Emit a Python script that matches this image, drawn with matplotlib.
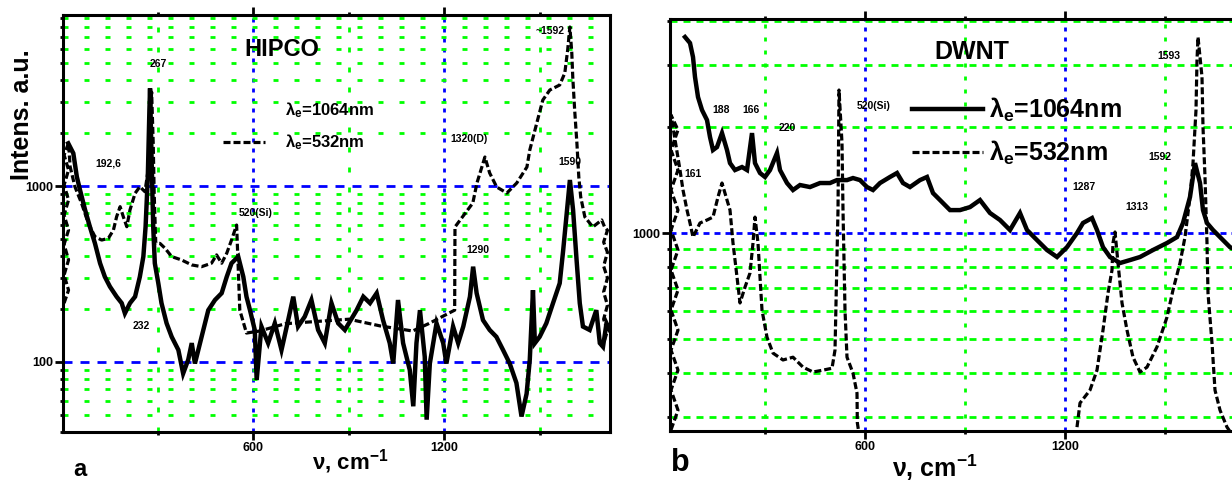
import numpy as np
from matplotlib import pyplot as plt
from matplotlib.lines import Line2D
from matplotlib.ticker import FixedLocator, LogLocator, NullFormatter, FuncFormatter

plt.rcParams['font.family'] = ['Liberation Sans', 'DejaVu Sans']
plt.rcParams['font.weight'] = 'bold'
plt.rcParams['mathtext.fontset'] = 'custom'
plt.rcParams['mathtext.rm'] = 'Liberation Sans:bold'
plt.rcParams['mathtext.it'] = 'Liberation Sans:bold'
plt.rcParams['mathtext.bf'] = 'Liberation Sans:bold'

# ---- panel a : HIPCO ----
hipco_x_1064 = [18, 34, 45, 55, 71, 86, 102, 118, 133, 149, 170, 186, 196, 212, 228, 243, 254, 261, 268, 273,
                275, 280, 285, 290, 301, 311, 327, 343, 364, 379, 395, 406, 416, 437, 458, 479, 500, 516, 531, 552,
                568, 578, 589, 604, 610, 625, 646, 667, 688, 709, 725, 740, 761, 782, 803, 824, 845, 866, 887, 924,
                945, 966, 987, 1007, 1028, 1039, 1054, 1070, 1091, 1102, 1112, 1123, 1138, 1144, 1154, 1175, 1196, 1206, 1227, 1243,
                1259, 1280, 1290, 1301, 1321, 1342, 1363, 1384, 1405, 1426, 1442, 1458, 1468, 1478, 1484, 1499, 1520, 1541, 1562, 1573,
                1583, 1594, 1604, 1615, 1625, 1635, 1656, 1677, 1688, 1698, 1709, 1719]
hipco_y_1064 = [1748, 1534, 1129, 949, 731, 587, 472, 364, 305, 268, 235, 216, 189, 216, 235, 305, 397, 587, 1129, 2702,
                3590, 1405, 587, 364, 280, 216, 166, 139, 117, 86, 103, 128, 98, 139, 197, 225, 246, 305, 364, 397,
                305, 235, 197, 152, 79, 159, 128, 166, 117, 173, 235, 159, 181, 225, 152, 128, 216, 166, 152, 197,
                235, 216, 246, 173, 128, 98, 225, 128, 90, 56, 128, 197, 107, 47, 98, 166, 128, 98, 159, 128,
                159, 235, 348, 246, 173, 152, 139, 117, 98, 76, 49, 66, 103, 256, 128, 139, 166, 216, 280, 433,
                669, 1082, 731, 380, 216, 159, 152, 197, 128, 122, 166, 152]

hipco_x_532 = [5, 19, 5, 19, 5, 19, 5, 19, 5, 19, 5, 19,
               24, 39, 60, 81, 102, 123, 144, 160, 170, 181, 191, 202, 212, 228, 243, 259, 269, 277,
               280, 285, 288, 293, 306, 322, 343, 374, 406, 437, 468, 484, 500, 516, 531, 547, 557, 578,
               620, 700, 800, 900, 1000, 1100, 1150,
               1232, 1233, 1254, 1289, 1302, 1327, 1342, 1364, 1396, 1427, 1459, 1468, 1490, 1509, 1531, 1562,
               1578, 1587, 1594, 1600, 1603, 1609, 1616, 1622, 1628, 1641, 1666, 1694, 1703,
               1712, 1700, 1712, 1700, 1712, 1700, 1712, 1700, 1712, 1700]
hipco_y_532 = [216, 256, 312, 380, 466, 562, 684, 833, 1013, 1233, 1500, 1755,
               1287, 991, 797, 614, 515, 493, 504, 562, 669, 763, 669, 587, 731, 909, 991, 928, 1233, 2702,
               3420, 1748, 909, 472, 472, 443, 397, 380, 356, 348, 364, 406, 364, 415, 493, 600, 197, 146,
               150, 165, 170, 175, 160, 150, 165,
               197, 585, 658, 800, 1040, 1461, 1185, 987, 912, 1040, 1282, 1601, 2280, 3081, 3512, 3749,
               4386, 5928, 8007, 5698, 4162, 2702, 1755, 1125, 866, 667, 585, 641, 585,
               560, 480, 420, 350, 300, 250, 210, 175, 150, 128]

# ---- panel b : DWNT ----
dwnt_x_1064 = [60, 75, 84, 90, 99, 111, 126, 135, 144, 156, 171, 186, 195, 210, 231, 246, 261, 270, 285, 300,
               315, 336, 345, 366, 384, 405, 435, 465, 495, 516, 546, 564, 585, 606, 624, 645, 675, 696, 714, 735,
               765, 786, 804, 825, 846, 855, 885, 915, 945, 975, 1005, 1035, 1065, 1086, 1116, 1146, 1176, 1206, 1236, 1254,
               1281, 1296, 1314, 1335, 1365, 1395, 1425, 1464, 1506, 1536, 1554, 1575, 1590, 1605, 1614, 1626, 1644, 1674, 1695, 1713]
dwnt_y_1064 = [3604, 3465, 3162, 2775, 2434, 2236, 2094, 1874, 1721, 1755, 1923, 1721, 1580, 1510, 1540, 1510, 1923, 1580, 1481, 1443,
               1510, 1688, 1510, 1387, 1325, 1369, 1351, 1387, 1387, 1414, 1414, 1433, 1414, 1351, 1325, 1387, 1443, 1481, 1387, 1351,
               1414, 1443, 1299, 1241, 1185, 1162, 1162, 1185, 1241, 1140, 1089, 1020, 1140, 1020, 955, 895, 855, 912, 1000, 1068,
               1103, 1020, 912, 855, 822, 838, 855, 895, 937, 974, 1068, 1266, 1580, 1387, 1162, 1068, 1020, 955, 912, 895]

dwnt_x_532 = [18, 39, 18, 39, 18, 39, 18, 39, 18, 39, 18, 39, 18, 39, 18, 39, 18,
              45, 54, 66, 75, 84, 105, 126, 144, 159, 171, 186, 195, 204, 216, 225, 240, 255, 264, 270, 279,
              285, 291, 306, 324, 354, 384, 414, 444, 474, 501, 510, 519, 522, 531, 534, 540, 546, 564, 576, 577, 585,
              np.nan,
              1236, 1245, 1275, 1296, 1314, 1329, 1341, 1344, 1350, 1359, 1371, 1386, 1404, 1425, 1446, 1476, 1506,
              1524, 1545, 1560, 1575, 1584, 1593, 1596, 1599, 1611, 1614, 1620, 1626, 1629, 1641, 1650, 1665, 1686, 1713]
dwnt_y_532 = [276, 314, 358, 408, 465, 530, 604, 689, 785, 895, 1020, 1162, 1325, 1510, 1721, 1962, 2164,
              1510, 1325, 1162, 1068, 974, 1068, 1089, 1110, 1266, 1387, 1241, 1162, 937, 750, 633, 702, 770, 937, 1110, 937,
              750, 604, 506, 456, 436, 444, 416, 403, 408, 413, 465, 1162, 2548, 1802, 1162, 604, 444, 400, 351, 289, 258,
              np.nan,
              281, 329, 358, 408, 530, 675, 785, 937, 1007, 822, 633, 530, 444, 403, 416, 475, 577,
              689, 822, 974, 1266, 1580, 2236, 3101, 3604, 2775, 2000, 1443, 937, 675, 487, 358, 314, 281, 258]

x_major = [600, 1200]
x_minor = [300, 900, 1500]
legend_labels = ["λ$_e$=1064nm", "λ$_e$=532nm"]

W, H = 1232, 483


def dash(on_px, off_px, lw):
    return (0, (on_px * 0.72 / lw, off_px * 0.72 / lw))


def style_axes(ax, xlim, ylim, ymajor, gh, gv, bh, bv):
    ax.set_yscale('log')
    ax.set_xlim(*xlim)
    ax.set_ylim(*ylim)
    ax.xaxis.set_major_locator(FixedLocator(x_major))
    ax.xaxis.set_minor_locator(FixedLocator(x_minor))
    ax.xaxis.set_major_formatter(FuncFormatter(lambda v, p: f"{v:.0f}"))
    ax.yaxis.set_major_locator(FixedLocator(ymajor))
    ax.yaxis.set_minor_locator(LogLocator(base=10, subs=np.arange(2, 10), numticks=30))
    ax.yaxis.set_major_formatter(FuncFormatter(lambda v, p: f"{v:.0f}"))
    ax.yaxis.set_minor_formatter(NullFormatter())
    lw = 2.0
    ax.grid(which='minor', axis='y', color='#00ff00', lw=lw, ls=dash(*gh, lw))
    ax.grid(which='minor', axis='x', color='#00ff00', lw=lw, ls=dash(*gv, lw))
    ax.grid(which='major', axis='y', color='#0000ff', lw=lw, ls=dash(*bh, lw))
    ax.grid(which='major', axis='x', color='#0000ff', lw=lw, ls=dash(*bv, lw))
    ax.set_axisbelow(True)
    for s in ax.spines.values():
        s.set_linewidth(2.2)
    ax.tick_params(which='both', top=True, right=False, direction='out', width=2, labelsize=9)
    ax.tick_params(which='major', length=6, pad=1)
    ax.tick_params(which='minor', length=2.5)
    for lab in ax.get_xticklabels() + ax.get_yticklabels():
        lab.set_fontweight('bold')


fig = plt.figure(figsize=(W / 100, H / 100), dpi=100)
ax_a = fig.add_axes([62.5 / W, (H - 432) / H, 547.5 / W, 417 / H])
ax_b = fig.add_axes([670 / W, (H - 431) / H, 566 / W, 412 / H])

style_axes(ax_a, (0, 1720), (40, 9370), [100, 1000], (5, 16), (5, 15), (9, 8), (4, 6))
style_axes(ax_b, (15, 1713), (274, 4055), [1000], (7, 6), (4, 9), (6, 5), (4, 6))

solid_kw = dict(color='black', lw=3.2, solid_joinstyle='miter')
dash_lw = 2.3
dash_kw = dict(color='black', lw=dash_lw, ls=dash(7, 3, dash_lw))

ax_a.plot(hipco_x_1064, hipco_y_1064, **solid_kw)
ax_a.plot(hipco_x_532, hipco_y_532, **dash_kw)
ax_b.plot(dwnt_x_1064, dwnt_y_1064, **solid_kw)
ax_b.plot(dwnt_x_532, dwnt_y_532, **dash_kw)

# legends
hidden = Line2D([], [], color='none')
ax_a.legend([hidden, Line2D([], [], **dash_kw)], legend_labels, loc='upper left',
            bbox_to_anchor=(0.294, 0.795), frameon=False, fontsize=12, handlelength=2.5,
            handletextpad=1.2, labelspacing=0.75, borderpad=0, borderaxespad=0)
ax_b.legend([Line2D([], [], **solid_kw), Line2D([], [], **dash_kw)], legend_labels, loc='upper left',
            bbox_to_anchor=(0.4276, 0.814), frameon=False, fontsize=18, handlelength=2.84,
            handletextpad=0.25, labelspacing=0.6, borderpad=0, borderaxespad=0)

# panel titles and peak labels
ax_a.text(689, 6000, "HIPCO", fontsize=17, ha='center', va='center', fontweight='bold')
ax_b.text(921, 3268, "DWNT", fontsize=18, ha='center', va='center', fontweight='bold')

small = dict(fontsize=7.5, ha='center', va='center', fontweight='bold')
ax_a.text(300, 4935, "267", **small)
ax_a.text(143, 1351, "192,6", **small)
ax_a.text(246, 160, "232", **small)
ax_a.text(608, 702, "520(Si)", **small)
ax_a.text(1276, 1849, "1320(D)", **small)
ax_a.text(1531, 7600, "~1592", **small)
ax_a.text(1594, 1369, "1590", **small)
ax_a.text(1305, 433, "1290", **small)

ax_b.text(168, 2236, "188", **small)
ax_b.text(258, 2236, "166", **small)
ax_b.text(366, 1987, "220", **small)
ax_b.text(627, 2295, "520(Si)", **small)
ax_b.text(84, 1471, "161", **small)
ax_b.text(1512, 3184, "1593", **small)
ax_b.text(1485, 1644, "1592", **small)
ax_b.text(1257, 1351, "1287", **small)
ax_b.text(1416, 1185, "1313", **small)

# figure-level labels
fig.text(22 / W, 1 - 115 / H, "Intens. a.u.", rotation=90, fontsize=18, ha='center', va='center', fontweight='bold')
fig.text(80 / W, 1 - 469 / H, "a", fontsize=17, ha='center', va='center', fontweight='bold')
fig.text(680 / W, 1 - 463 / H, "b", fontsize=22, ha='center', va='center', fontweight='bold')
fig.text(350 / W, 1 - 462 / H, "ν, cm$^{-1}$", fontsize=16, ha='center', va='center', fontweight='bold')
fig.text(935 / W, 1 - 468 / H, "ν, cm$^{-1}$", fontsize=18, ha='center', va='center', fontweight='bold')

fig.savefig("out.png", dpi=100)
